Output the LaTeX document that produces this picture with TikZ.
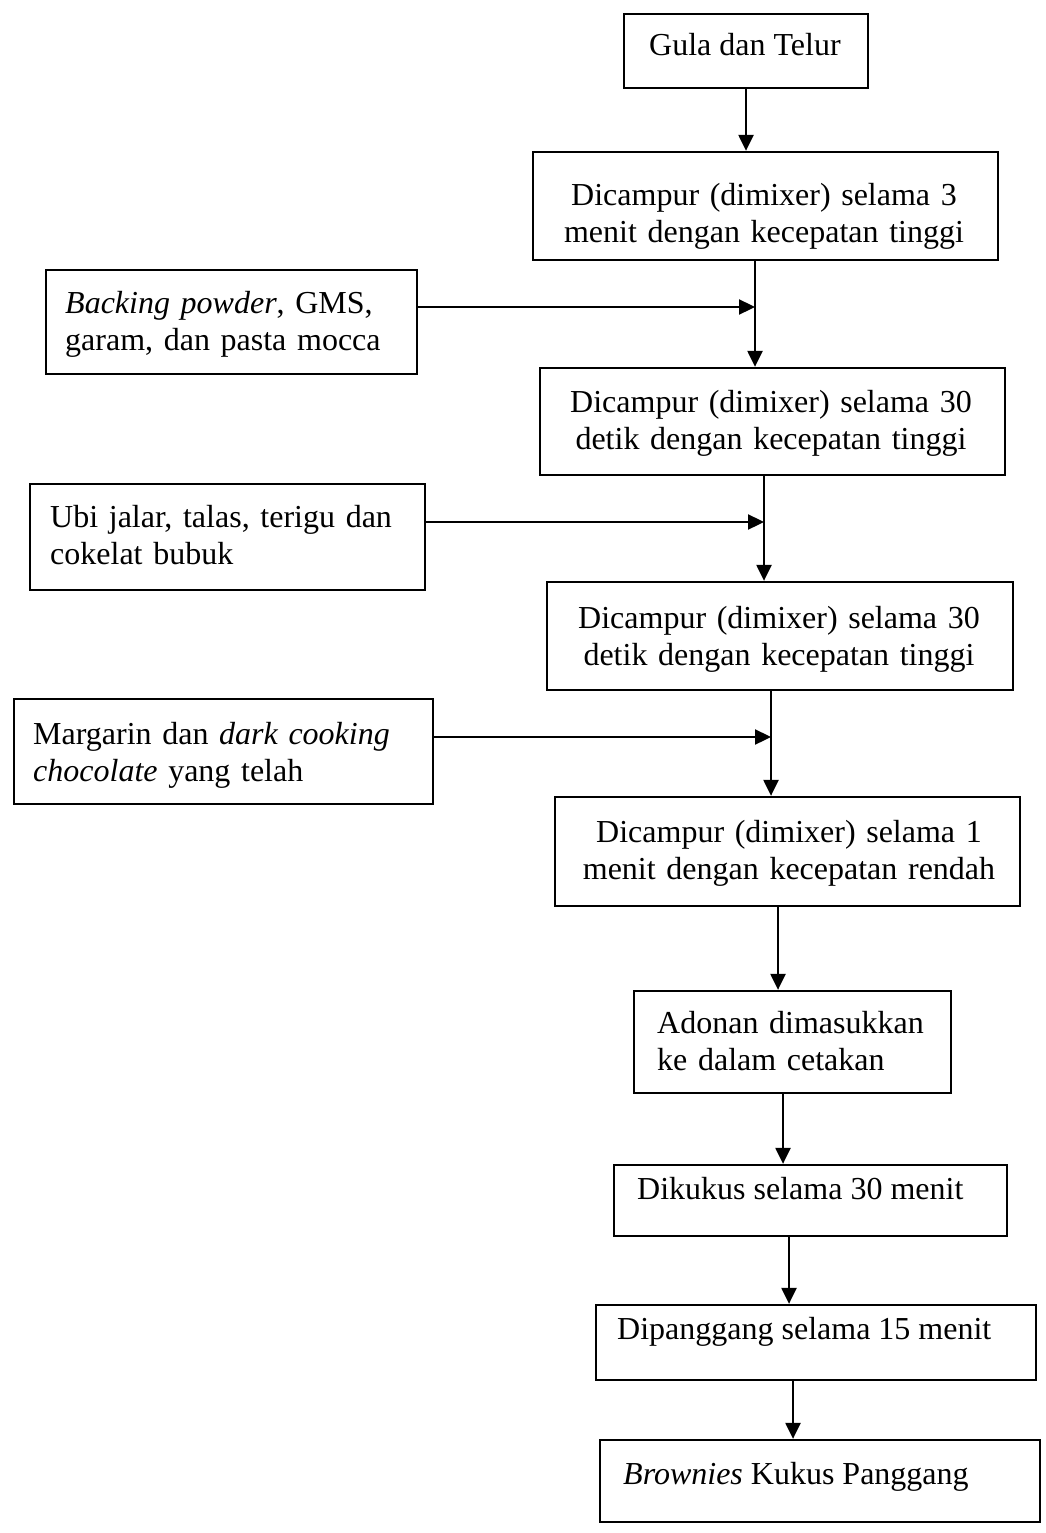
\documentclass[tikz,border=0pt]{standalone}
\usepackage{fontspec}
\setmainfont{Liberation Serif}
\usetikzlibrary{arrows.meta}
\begin{document}
\begin{tikzpicture}[x=1pt,y=-1pt,
  box/.style={draw, line width=2.3pt, rectangle, inner sep=0pt},
  txt/.style={inner sep=0pt, font=\fontsize{32}{37}\selectfont},
  ltxt/.style={txt, anchor=base west, align=left, text width=420pt},
  ctxt/.style={txt, anchor=base, align=center, text width=440pt},
  arr/.style={line width=2.3pt, -{Triangle[length=16pt,width=15pt]}},
  harr/.style={line width=2.3pt, -{Triangle[length=16pt,width=15pt]}}]
\useasboundingbox (0,0) rectangle (1045,1533);
% boxes
\node[box, minimum width=244pt, minimum height=74pt] (b1) at (746,51) {};
\node[box, minimum width=465pt, minimum height=108pt] (b2) at (765.5,206) {};
\node[box, minimum width=371pt, minimum height=104pt] (b3) at (231.5,322) {};
\node[box, minimum width=465pt, minimum height=107pt] (b4) at (772.5,421.5) {};
\node[box, minimum width=395pt, minimum height=106pt] (b5) at (227.5,537) {};
\node[box, minimum width=466pt, minimum height=108pt] (b6) at (780,636) {};
\node[box, minimum width=419pt, minimum height=105pt] (b7) at (223.5,751.5) {};
\node[box, minimum width=465pt, minimum height=109pt] (b8) at (787.5,851.5) {};
\node[box, minimum width=317pt, minimum height=102pt] (b9) at (792.5,1042) {};
\node[box, minimum width=393pt, minimum height=71pt] (b10) at (810.5,1200.5) {};
\node[box, minimum width=440pt, minimum height=75pt] (b11) at (816,1342.5) {};
\node[box, minimum width=440pt, minimum height=82pt] (b12) at (820,1481) {};
% texts
\node[txt, anchor=base west] (t1) at (649,56) {Gula dan Telur};
\node[ctxt] (t2) at (764,205) {Dicampur (dimixer) selama 3\\menit dengan kecepatan tinggi};
\node[ltxt] (t3) at (65,313) {\textit{Backing powder}, GMS,\\garam, dan pasta mocca};
\node[ctxt] (t4) at (771,412) {Dicampur (dimixer) selama 30\\detik dengan kecepatan tinggi};
\node[ltxt] (t5) at (50,527) {Ubi jalar, talas, terigu dan\\cokelat bubuk};
\node[ctxt] (t6) at (779,628) {Dicampur (dimixer) selama 30\\detik dengan kecepatan tinggi};
\node[ltxt] (t7) at (33,744) {Margarin dan \textit{dark cooking}\\\textit{chocolate} yang telah};
\node[ctxt] (t8) at (789,842) {Dicampur (dimixer) selama 1\\menit dengan kecepatan rendah};
\node[ltxt] (t9) at (657,1033) {Adonan dimasukkan\\ke dalam cetakan};
\node[txt, anchor=base west] (t10) at (637,1199) {Dikukus selama 30 menit};
\node[txt, anchor=base west] (t11) at (617,1339) {Dipanggang selama 15 menit};
\node[txt, anchor=base west] (t12) at (623,1484) {\textit{Brownies} Kukus Panggang};
% spine coordinates
\coordinate (s2) at (755,307);
\coordinate (s3) at (764,522);
\coordinate (s4) at (771,737);
\coordinate (s5) at (778,0);
\coordinate (s6) at (783,0);
\coordinate (s7) at (789,0);
\coordinate (s8) at (793,0);
% connectors
\draw[arr] (b1.south) -- (b1.south |- b2.north);
\draw[arr] (b2.south -| s2) -- (b4.north -| s2);
\draw[harr] (b3.east |- s2) -- (s2);
\draw[arr] (b4.south -| s3) -- (b6.north -| s3);
\draw[harr] (b5.east |- s3) -- (s3);
\draw[arr] (b6.south -| s4) -- (b8.north -| s4);
\draw[harr] (b7.east |- s4) -- (s4);
\draw[arr] (b8.south -| s5) -- (b9.north -| s5);
\draw[arr] (b9.south -| s6) -- (b10.north -| s6);
\draw[arr] (b10.south -| s7) -- (b11.north -| s7);
\draw[arr] (b11.south -| s8) -- (b12.north -| s8);
\end{tikzpicture}
\end{document}
